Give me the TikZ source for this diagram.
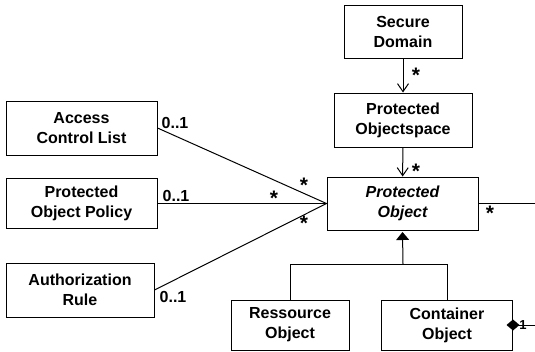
\documentclass[tikz,border=0pt]{standalone}
\usepackage{fontspec}
\setmainfont{Liberation Sans}
\usetikzlibrary{arrows.meta}
\begin{document}
\begin{tikzpicture}[x=1pt,y=-1pt,line width=1pt,
  cls/.style={draw,fill=white,font=\bfseries\fontsize{16}{20}\selectfont,align=center,inner sep=0pt},
  mult/.style={font=\bfseries\fontsize{16}{20}\selectfont,inner sep=0pt},
  star/.style={font=\bfseries\fontsize{21}{24}\selectfont,inner sep=0pt},
  nav/.style={-{Straight Barb[length=8pt,width=11pt]}},
  gen/.style={-{Triangle[length=8pt,width=13pt]}}]
\useasboundingbox (0,0) rectangle (535,351);
\node[cls,minimum width=118pt,minimum height=53pt] (sd) at (403,31.5) {Secure\\Domain};
\node[cls,minimum width=138pt,minimum height=54pt] (os) at (403,120) {Protected\\Objectspace};
\node[cls,minimum width=151pt,minimum height=53pt,font=\bfseries\itshape\fontsize{16}{20}\selectfont] (po) at (402.5,203.5) {Protected\\Object};
\node[cls,minimum width=151pt,minimum height=54pt] (acl) at (81.5,128) {Access\\Control List};
\node[cls,minimum width=151pt,minimum height=50pt] (pop) at (81.5,203.5) {Protected\\Object Policy};
\node[cls,minimum width=148pt,minimum height=54pt] (ar) at (80,290) {Authorization\\Rule};
\node[cls,minimum width=118pt,minimum height=50pt] (ro) at (290,325) {Ressource\\Object};
\node[cls,minimum width=131pt,minimum height=50pt] (co) at (447,325) {Container\\Object};
% associations
\draw (acl.east) -- (po.west);
\draw (pop.east) -- (po.west);
\draw (ar.east) -- (po.west);
\draw[nav] (sd) -- (os);
\draw[nav] (os) -- (po);
\coordinate (r1) at (535,203.5);
\draw (po.east) -- (r1);
\coordinate (r2) at (535,325);
\draw (co.east) -- (r2);
\fill (co.east) +(-6.5,0) -- +(0,-5.5) -- +(6.5,0) -- +(0,5.5) -- cycle;
% generalization
\coordinate (j) at (403,264);
\draw (ro.north) |- (j);
\draw (co.north) |- (j);
\draw[gen] (j) -- ([yshift=-1.5pt]po.south);
% multiplicities
\node[mult] (m1) at (175,123) {0..1};
\node[mult] (m2) at (176,195.5) {0..1};
\node[mult] (m3) at (173,297) {0..1};
\node[star] (s1) at (274,198) {*};
\node[star] (s2) at (304,185) {*};
\node[star] (s3) at (304,223) {*};
\node[star] (s4) at (416,75) {*};
\node[star] (s5) at (416,171) {*};
\node[star] (s6) at (490,213) {*};
\node[font=\bfseries\fontsize{13}{15}\selectfont,inner sep=0pt] (one) at (523,325) {1};
\end{tikzpicture}
\end{document}
